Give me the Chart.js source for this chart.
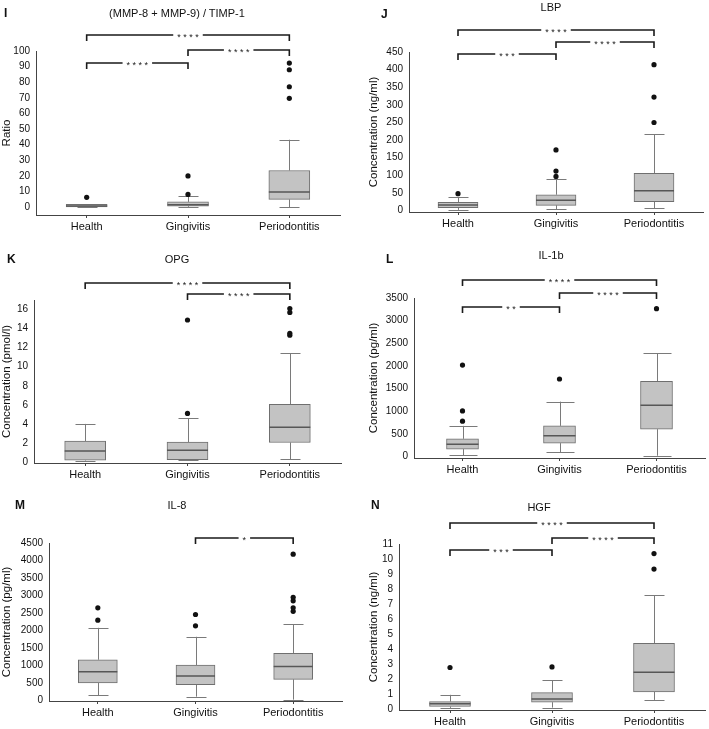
<!DOCTYPE html>
<html>
<head>
<meta charset="utf-8">
<script src="https://cdn.jsdelivr.net/npm/chart.js@4.4.1/dist/chart.umd.min.js"></script>
<style>
body { margin:0; background:#fff; width:709px; height:729px; position:relative; overflow:hidden; font-family:'Liberation Sans', Arial, sans-serif; color:#111; }
canvas { position:absolute; }
.ttl { position:absolute; font-size:11px; transform:translate(-50%,-50%); white-space:nowrap; }
.lbl { position:absolute; font-size:12px; font-weight:bold; transform:translateY(-50%); }
</style>
</head>
<body>
<script>
const groups = ['Health', 'Gingivitis', 'Periodontitis'];

// I  (MMP-8 + MMP-9) / TIMP-1
const ratioLow = [0, 0, 0];
const ratioQ1 = [0.2, 0.6, 5];
const ratioMed = [0.7, 1.6, 9.8];
const ratioQ3 = [1.8, 3.4, 23.5];
const ratioHigh = [1.8, 7, 43.2];
const ratioOut = [[6.3], [8.2, 20], [69.7, 77.1, 88, 92.3]];
const ratioAxis = [-5, 100, 10];
const ratioSig = [['Health', 'Periodontitis', '****'], ['Gingivitis', 'Periodontitis', '****'], ['Health', 'Gingivitis', '****']];

// J  LBP
const lbpLow = [2, 4, 6.6];
const lbpQ1 = [8.5, 15, 25.5];
const lbpMed = [16, 29, 56.6];
const lbpQ3 = [23.6, 45, 105.7];
const lbpHigh = [37.7, 88.7, 216];
const lbpOut = [[48], [97, 112, 172], [250, 322, 414]];
const lbpAxis = [-4, 450, 50];
const lbpSig = [['Health', 'Periodontitis', '****'], ['Gingivitis', 'Periodontitis', '****'], ['Health', 'Gingivitis', '***']];

// K  OPG
const opgLow = [0.15, 0.2, 0.3];
const opgQ1 = [0.2, 0.25, 2.05];
const opgMed = [1.15, 1.25, 3.65];
const opgQ3 = [2.2, 2.1, 6.05];
const opgHigh = [4.0, 4.6, 11.4];
const opgOut = [[], [5.1, 14.9], [13.3, 13.5, 15.7, 16.1]];
const opgAxis = [-0.1, 17, 2];
const opgSig = [['Health', 'Periodontitis', '****'], ['Gingivitis', 'Periodontitis', '****']];

// L  IL-1b
const il1bLow = [29, 95, 15];
const il1bQ1 = [161, 293, 602];
const il1bMed = [271, 455, 1130];
const il1bQ3 = [389, 675, 1658];
const il1bHigh = [675, 1210, 2274];
const il1bOut = [[778, 1005, 2018], [1710], [3265]];
const il1bAxis = [-35, 3500, 500];
const il1bSig = [['Health', 'Periodontitis', '****'], ['Gingivitis', 'Periodontitis', '****'], ['Health', 'Gingivitis', '**']];

// M  IL-8
const il8Low = [152, 114, 28];
const il8Q1 = [503, 456, 608];
const il8Med = [826, 703, 978];
const il8Q3 = [1168, 1016, 1348];
const il8High = [2079, 1823, 2174];
const il8Out = [[2297, 2649], [2136, 2459], [2550, 2650, 2850, 2950, 4180]];
const il8Axis = [-10, 4500, 500];
const il8Sig = [['Gingivitis', 'Periodontitis', '*']];

// N  HGF
const hgfLow = [0.09, 0.11, 0.62];
const hgfQ1 = [0.18, 0.47, 1.16];
const hgfMed = [0.36, 0.69, 2.47];
const hgfQ3 = [0.51, 1.11, 4.38];
const hgfHigh = [0.96, 1.93, 7.6];
const hgfOut = [[2.78], [2.82], [9.33, 10.36]];
const hgfAxis = [-0.05, 11, 1];
const hgfSig = [['Health', 'Periodontitis', '****'], ['Gingivitis', 'Periodontitis', '****'], ['Health', 'Gingivitis', '***']];

const FONT = "'Liberation Sans', Arial, sans-serif";
Chart.defaults.font.family = FONT;
Chart.defaults.color = '#111';

const panels = [
  { id:'cI', left:0, top:0, w:354, h:240, axisW:36, pt:51, pr:14, pb:8, yOff:0, yTitle:'Ratio',
    low:ratioLow, q1:ratioQ1, med:ratioMed, q3:ratioQ3, high:ratioHigh, out:ratioOut, axis:ratioAxis, sig:ratioSig,
    sigY:[35, 50, 63], boxW:41, capW:20, title:'(MMP-8 + MMP-9) / TIMP-1', tx:177, ty:13, letter:'I', lx:4, ly:13 },
  { id:'cJ', left:354, top:0, w:355, h:240, axisW:55, pt:52, pr:6, pb:11, yOff:13, yTitle:'Concentration (ng/ml)',
    low:lbpLow, q1:lbpQ1, med:lbpMed, q3:lbpQ3, high:lbpHigh, out:lbpOut, axis:lbpAxis, sig:lbpSig,
    sigY:[30, 42, 54], boxW:40, capW:20, title:'LBP', tx:551, ty:7, letter:'J', lx:381, ly:14 },
  { id:'cK', left:0, top:240, w:354, h:240, axisW:34, pt:60, pr:13, pb:0, yOff:0, yTitle:'Concentration (pmol/l)',
    low:opgLow, q1:opgQ1, med:opgMed, q3:opgQ3, high:opgHigh, out:opgOut, axis:opgAxis, sig:opgSig,
    sigY:[43, 54], boxW:41, capW:20, title:'OPG', tx:177, ty:19, letter:'K', lx:7, ly:19 },
  { id:'cL', left:354, top:240, w:355, h:240, axisW:60, pt:58, pr:4, pb:5, yOff:13, yTitle:'Concentration (pg/ml)',
    low:il1bLow, q1:il1bQ1, med:il1bMed, q3:il1bQ3, high:il1bHigh, out:il1bOut, axis:il1bAxis, sig:il1bSig,
    sigY:[40, 53, 67], boxW:32, capW:28, title:'IL-1b', tx:551, ty:15, letter:'L', lx:386, ly:19 },
  { id:'cM', left:0, top:480, w:354, h:249, axisW:49, pt:63, pr:12, pb:11, yOff:0, yTitle:'Concentration (pg/ml)',
    low:il8Low, q1:il8Q1, med:il8Med, q3:il8Q3, high:il8High, out:il8Out, axis:il8Axis, sig:il8Sig,
    sigY:[58], boxW:39, capW:20, title:'IL-8', tx:177, ty:25, letter:'M', lx:15, ly:25 },
  { id:'cN', left:354, top:480, w:355, h:249, axisW:45, pt:64, pr:2, pb:2, yOff:13, yTitle:'Concentration (ng/ml)',
    low:hgfLow, q1:hgfQ1, med:hgfMed, q3:hgfQ3, high:hgfHigh, out:hgfOut, axis:hgfAxis, sig:hgfSig,
    sigY:[43, 58, 70], boxW:41, capW:20, title:'HGF', tx:539, ty:27, letter:'N', lx:371, ly:25 }
];
const byId = {};
panels.forEach(p => byId[p.id] = p);

const boxPlugin = {
  id: 'boxwhisker',
  beforeDatasetsDraw(chart) {
    const p = byId[chart.canvas.id];
    const x = chart.scales.x, y = chart.scales.y, ctx = chart.ctx;
    ctx.save();
    ctx.strokeStyle = '#7a7a7a';
    ctx.lineWidth = 1;
    ctx.beginPath();
    groups.forEach((g, i) => {
      const cx = Math.round(x.getPixelForValue(i)) + 0.5;
      const yl = y.getPixelForValue(p.low[i]), yh = y.getPixelForValue(p.high[i]);
      const y1 = y.getPixelForValue(p.q1[i]), y3 = y.getPixelForValue(p.q3[i]);
      ctx.moveTo(cx, y3); ctx.lineTo(cx, yh);
      ctx.moveTo(cx, y1); ctx.lineTo(cx, yl);
      ctx.moveTo(cx - p.capW / 2, Math.round(yh) + 0.5); ctx.lineTo(cx + p.capW / 2, Math.round(yh) + 0.5);
      ctx.moveTo(cx - p.capW / 2, Math.round(yl) + 0.5); ctx.lineTo(cx + p.capW / 2, Math.round(yl) + 0.5);
    });
    ctx.stroke();
    ctx.restore();
  },
  afterDatasetsDraw(chart) {
    const p = byId[chart.canvas.id];
    const x = chart.scales.x, y = chart.scales.y, ctx = chart.ctx;
    ctx.save();
    // medians
    ctx.strokeStyle = '#575757';
    ctx.lineWidth = 1.5;
    ctx.beginPath();
    groups.forEach((g, i) => {
      const cx = x.getPixelForValue(i);
      const ym = y.getPixelForValue(p.med[i]);
      ctx.moveTo(cx - p.boxW / 2, ym); ctx.lineTo(cx + p.boxW / 2, ym);
    });
    ctx.stroke();
    // significance brackets
    ctx.strokeStyle = '#1a1a1a';
    ctx.fillStyle = '#1a1a1a';
    ctx.lineWidth = 1.6;
    ctx.font = '9px ' + FONT;
    ctx.textAlign = 'center';
    ctx.textBaseline = 'alphabetic';
    p.sig.forEach((s, k) => {
      const x1 = x.getPixelForValue(groups.indexOf(s[0]));
      const x2 = x.getPixelForValue(groups.indexOf(s[1]));
      const by = p.sigY[k];
      const txt = s[2].split('').join(' ');
      const gap = ctx.measureText(txt).width + 8;
      const mid = (x1 + x2) / 2;
      ctx.beginPath();
      ctx.moveTo(x1, by + 6); ctx.lineTo(x1, by); ctx.lineTo(mid - gap / 2, by);
      ctx.moveTo(mid + gap / 2, by); ctx.lineTo(x2, by); ctx.lineTo(x2, by + 6);
      ctx.stroke();
      ctx.fillText(txt, mid, by + 5);
    });
    ctx.restore();
  }
};

panels.forEach(p => {
  const cv = document.createElement('canvas');
  cv.id = p.id;
  cv.width = p.w; cv.height = p.h;
  cv.style.left = p.left + 'px'; cv.style.top = p.top + 'px';
  document.body.appendChild(cv);

  const t = document.createElement('div');
  t.className = 'ttl'; t.textContent = p.title;
  t.style.left = p.tx + 'px'; t.style.top = (p.top + p.ty) + 'px';
  document.body.appendChild(t);
  const l = document.createElement('div');
  l.className = 'lbl'; l.textContent = p.letter;
  l.style.left = p.lx + 'px'; l.style.top = (p.top + p.ly) + 'px';
  document.body.appendChild(l);

  const outPts = [];
  p.out.forEach((vals, i) => vals.forEach(v => outPts.push({ x: groups[i], y: v })));

  new Chart(cv.getContext('2d'), {
    type: 'bar',
    data: {
      labels: groups,
      datasets: [
        { data: p.q1.map((v, i) => [v, p.q3[i]]), backgroundColor: '#c3c3c3', borderColor: '#6f6f6f',
          borderWidth: 1, borderSkipped: false, barThickness: p.boxW, order: 2 },
        { type: 'line', showLine: false, data: outPts, pointRadius: 2.6, pointBackgroundColor: '#111',
          pointBorderWidth: 0, order: 1 }
      ]
    },
    options: {
      responsive: false,
      animation: false,
      events: [],
      layout: { padding: { left: 0, top: p.pt, right: p.pr, bottom: p.pb } },
      plugins: { legend: { display: false }, tooltip: { enabled: false } },
      scales: {
        x: {
          type: 'category', offset: true,
          grid: { display: true, drawOnChartArea: false, offset: false, tickLength: 3, color: '#444' },
          border: { color: '#444' },
          ticks: { font: { size: 11 }, padding: 2, maxRotation: 0, color: '#111' },
          afterFit(s) { s.height = 17; }
        },
        y: {
          min: p.axis[0], max: p.axis[1],
          grid: { display: false, drawTicks: false },
          border: { color: '#444' },
          ticks: { font: { size: 10 }, padding: 6, color: '#111', callback: v => String(v) },
          title: { display: true, text: p.yTitle, font: { size: 11.5 }, color: '#111', padding: { top: p.yOff, bottom: 0 } },
          afterBuildTicks(s) {
            const tk = [];
            for (let v = 0; v <= p.axis[1] + 1e-9; v += p.axis[2]) tk.push({ value: Math.round(v * 100) / 100 });
            s.ticks = tk;
          },
          afterFit(s) { s.width = p.axisW; }
        }
      }
    },
    plugins: [boxPlugin]
  });
});
</script>
</body>
</html>
